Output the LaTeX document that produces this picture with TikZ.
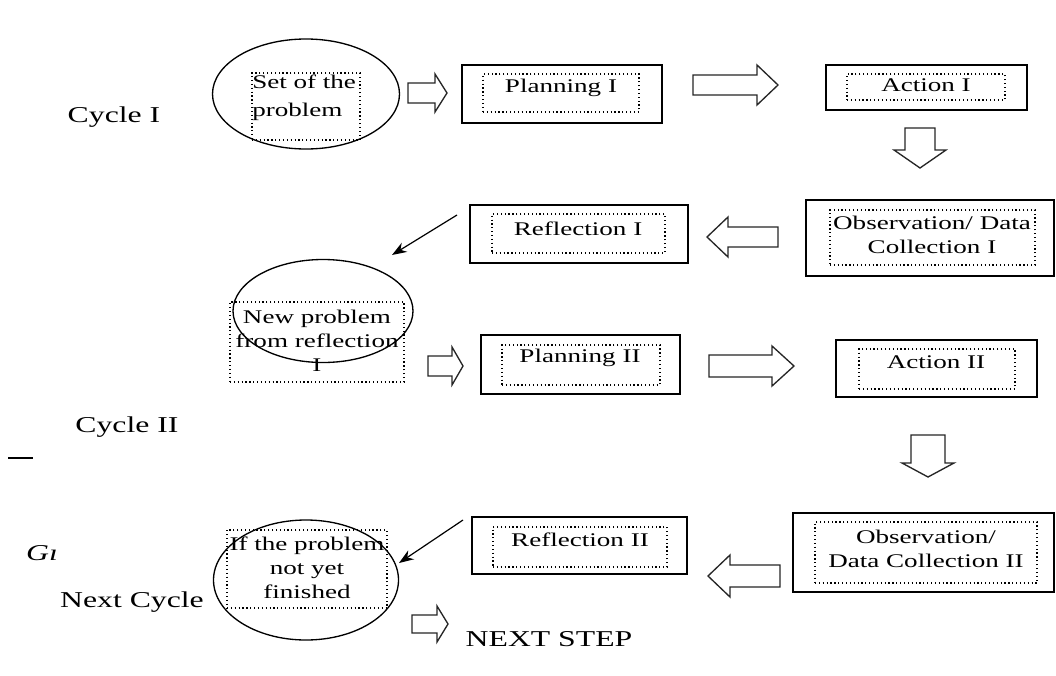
\documentclass[tikz,border=0pt]{standalone}
\usepackage{fontspec}
\setmainfont{Liberation Serif}[FakeStretch=1.4]
\usetikzlibrary{shapes.geometric,arrows.meta}
\newcommand\RArr[6]{\draw[blockarrow] (#1,#3-#5) -- (#4,#3-#5) -- (#4,#3-#6) -- (#2,#3) -- (#4,#3+#6) -- (#4,#3+#5) -- (#1,#3+#5) -- cycle;}
\newcommand\DArr[6]{\draw[blockarrow] (#3-#5,#1) -- (#3-#5,#4) -- (#3-#6,#4) -- (#3,#2) -- (#3+#6,#4) -- (#3+#5,#4) -- (#3+#5,#1) -- cycle;}
\tikzset{
  sz/.style 2 args={minimum width=#1*0.75pt, minimum height=#2*0.75pt},
  outerbox/.style={draw, line width=1.4pt, inner sep=0pt},
  innerbox/.style={draw, dotted, line width=0.9pt, inner sep=0pt},
  ellip/.style={draw, ellipse, line width=1pt, inner sep=0pt},
  txt/.style={inner sep=0pt, font=\fontsize{14.5}{18}\selectfont, align=center},
  lbl/.style={inner sep=0pt, font=\fontsize{17}{20}\selectfont},
  blockarrow/.style={draw=black!85, line width=1pt, line join=miter},
  thin/.style={-{Stealth[length=11pt,width=8pt]}, line width=0.9pt},
}
\begin{document}
\begin{tikzpicture}[x=0.75pt,y=-0.75pt]
\useasboundingbox[fill=white] (0,0) rectangle (1056,675);
% left labels
\node[lbl] (cyc1) at (114,117) {Cycle I};
\node[lbl] (cyc2) at (127,427) {Cycle II};
\node[lbl] (nextc) at (132,602) {Next Cycle};
\node[lbl, font=\fontsize{17}{20}\selectfont\itshape] (gi) at (42,553) {G\i};
\coordinate (dl) at (8,458); \coordinate (dr) at (33,458);
\draw[line width=1.2pt] (dl) -- (dr);
% cycle I
\node[ellip, sz={187}{110}] (e1) at (306,94) {};
\node[innerbox, sz={108}{67}] (t1) at (306,106.5) {};
\node[txt, align=left, anchor=west, font=\fontsize{14.5}{21}\selectfont] (t1t) at (252,98) {Set of the\\problem};
\node[outerbox, sz={200}{58}] (p1) at (562,94) {};
\node[innerbox, sz={156}{38}] (p1i) at (561,93) {};
\node[txt] (p1t) at (561,88) {Planning I};
\node[outerbox, sz={201}{45}] (a1) at (926.5,87.5) {};
\node[innerbox, sz={158}{26}] (a1i) at (926,87) {};
\node[txt] (a1t) at (926,85) {Action I};
\node[outerbox, sz={248}{76}] (o1) at (930,238) {};
\node[innerbox, sz={205}{55}] (o1i) at (932.5,237.5) {};
\node[txt] (o1t) at (932,235) {Observation/ Data\\Collection I};
\node[outerbox, sz={218}{58}] (r1) at (579,234) {};
\node[innerbox, sz={173}{39}] (r1i) at (578.5,233.5) {};
\node[txt] (r1t) at (578,229) {Reflection I};
% cycle II
\node[ellip, sz={180}{103}] (e2) at (323,311) {};
\node[innerbox, sz={174}{80}] (t2) at (317,342) {};
\node[txt] (t2t) at (317,341) {New problem\\from reflection\\I};
\node[outerbox, sz={199}{59}] (p2) at (580.5,364.5) {};
\node[innerbox, sz={158}{40}] (p2i) at (581,365) {};
\node[txt] (p2t) at (580,358) {Planning II};
\node[outerbox, sz={201}{57}] (a2) at (936.5,368.5) {};
\node[innerbox, sz={156}{40}] (a2i) at (937,369) {};
\node[txt] (a2t) at (936,362) {Action II};
\node[outerbox, sz={261}{79}] (o2) at (923.5,552.5) {};
\node[innerbox, sz={222}{61}] (o2i) at (926,552.5) {};
\node[txt] (o2t) at (926,549) {Observation/\\Data Collection II};
\node[outerbox, sz={215}{57}] (r2) at (579.5,545.5) {};
\node[innerbox, sz={174}{40}] (r2i) at (580,547) {};
\node[txt] (r2t) at (580,540) {Reflection II};
% next cycle
\node[ellip, sz={185}{120}] (e3) at (306,580) {};
\node[innerbox, sz={160}{78}] (t3) at (307,569) {};
\node[txt] (t3t) at (307,568) {If the problem\\not yet\\finished};
\node[lbl] (ns) at (549,639) {NEXT STEP};
% block arrows
\RArr{408}{447}{93}{435}{10}{19}
\RArr{693}{778}{85}{757}{10}{20}
\DArr{128}{168}{920}{150}{15}{26}
\RArr{778}{707}{237}{728}{10}{20}
\RArr{428}{463}{366}{452}{10}{19}
\RArr{709}{794}{366}{772}{11}{20}
\DArr{435}{477}{928}{463}{17}{26}
\RArr{780}{708}{576}{730}{11}{21}
\RArr{412}{448}{624}{437}{9}{18}
% thin arrows
\coordinate (s1) at (457,215); \coordinate (f1) at (392,255);
\draw[thin] (s1) -- (f1);
\coordinate (s2) at (463,520); \coordinate (f2) at (399,563);
\draw[thin] (s2) -- (f2);
\end{tikzpicture}
\end{document}
